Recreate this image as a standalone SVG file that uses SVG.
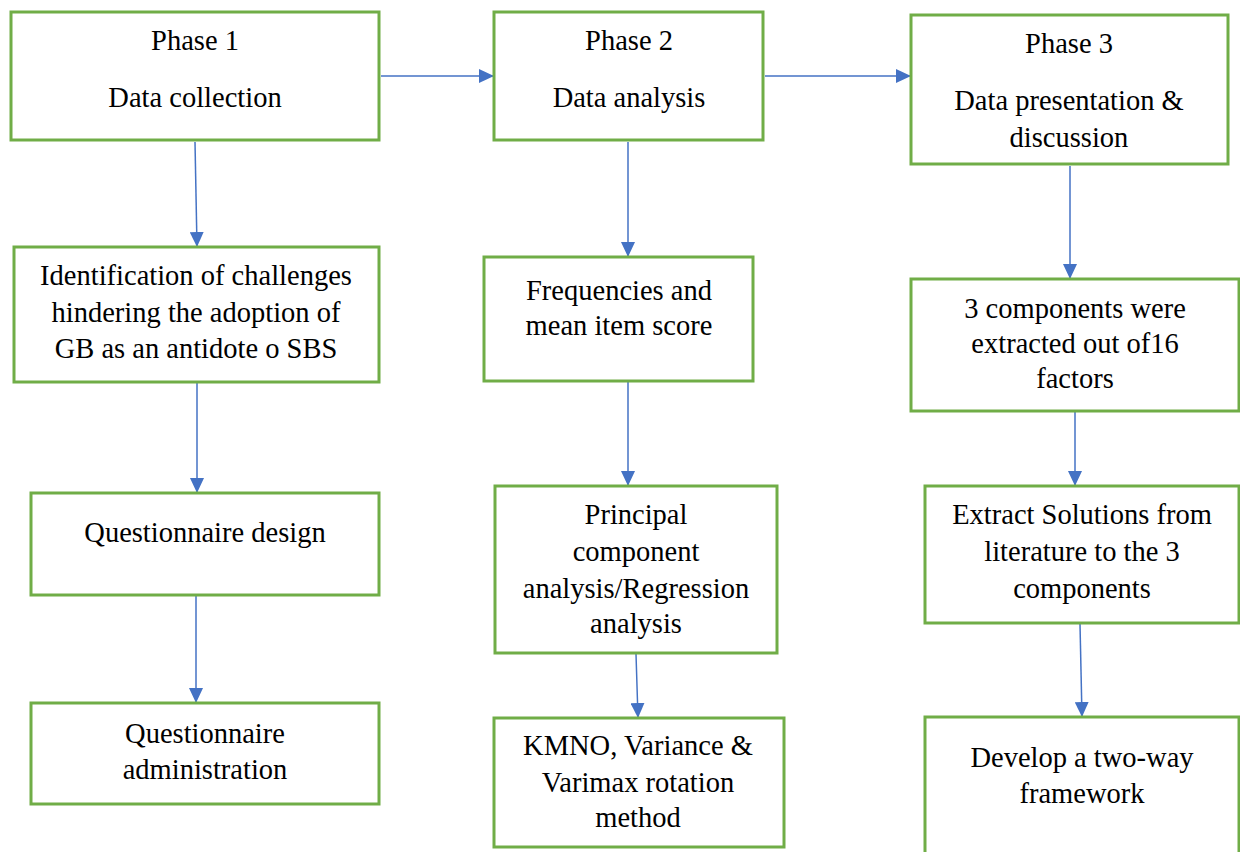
<svg xmlns="http://www.w3.org/2000/svg" width="1240" height="852" viewBox="0 0 1240 852">
<style>
.box{fill:#fff;stroke:#70AD47;stroke-width:3}
.t{font-family:"Liberation Serif","Times New Roman",serif;font-size:28.5px;fill:#000;text-anchor:middle}
.c{stroke:#4472C4;stroke-width:1.5;fill:none;marker-end:url(#ah)}
</style>
<defs>
<marker id="ah" markerUnits="userSpaceOnUse" markerWidth="16" markerHeight="14" refX="15" refY="7" orient="auto">
<path d="M0,0 L15,7 L0,14 Z" fill="#4472C4"/>
</marker>
</defs>
<rect width="1240" height="852" fill="#fff"/>
<g id="connectors">
<line class="c" x1="381" y1="76" x2="494" y2="76"/>
<line class="c" x1="765" y1="76" x2="911" y2="76"/>
<line class="c" x1="195" y1="142" x2="197" y2="247"/>
<line class="c" x1="197" y1="383" x2="197" y2="493"/>
<line class="c" x1="196" y1="596" x2="196" y2="703"/>
<line class="c" x1="628" y1="142" x2="628" y2="257"/>
<line class="c" x1="628" y1="382" x2="628" y2="486"/>
<line class="c" x1="636" y1="654" x2="638" y2="718"/>
<line class="c" x1="1070" y1="166" x2="1070" y2="279"/>
<line class="c" x1="1075" y1="412" x2="1075" y2="486"/>
<line class="c" x1="1080" y1="624" x2="1082" y2="717"/>
</g>
<g id="phase1">
<rect class="box" x="11" y="12" width="368" height="128"/>
<text class="t" x="195" y="50">Phase 1</text>
<text class="t" x="195" y="107">Data collection</text>
</g>
<g id="phase2">
<rect class="box" x="494" y="12" width="269" height="128"/>
<text class="t" x="629" y="50">Phase 2</text>
<text class="t" x="629" y="107">Data analysis</text>
</g>
<g id="phase3">
<rect class="box" x="911" y="15" width="317" height="149"/>
<text class="t" x="1069" y="53">Phase 3</text>
<text class="t" x="1069" y="110">Data presentation &amp;</text>
<text class="t" x="1069" y="147">discussion</text>
</g>
<g id="identification">
<rect class="box" x="14" y="247" width="365" height="135"/>
<text class="t" x="196" y="285">Identification of challenges</text>
<text class="t" x="196" y="322">hindering the adoption of</text>
<text class="t" x="196" y="358">GB as an antidote o SBS</text>
</g>
<g id="qdesign">
<rect class="box" x="31" y="493" width="348" height="102"/>
<text class="t" x="205" y="542">Questionnaire design</text>
</g>
<g id="qadmin">
<rect class="box" x="31" y="703" width="348" height="101"/>
<text class="t" x="205" y="743">Questionnaire</text>
<text class="t" x="205" y="779">administration</text>
</g>
<g id="frequencies">
<rect class="box" x="484" y="257" width="269" height="124"/>
<text class="t" x="619" y="300">Frequencies and</text>
<text class="t" x="619" y="335">mean item score</text>
</g>
<g id="principal">
<rect class="box" x="495" y="486" width="282" height="167"/>
<text class="t" x="636" y="524">Principal</text>
<text class="t" x="636" y="561">component</text>
<text class="t" x="636" y="598">analysis/Regression</text>
<text class="t" x="636" y="633">analysis</text>
</g>
<g id="kmno">
<rect class="box" x="494" y="718" width="290" height="129"/>
<text class="t" x="638" y="755">KMNO, Variance &amp;</text>
<text class="t" x="638" y="792">Varimax rotation</text>
<text class="t" x="638" y="827">method</text>
</g>
<g id="components">
<rect class="box" x="911" y="279" width="328" height="132"/>
<text class="t" x="1075" y="318">3 components were</text>
<text class="t" x="1075" y="353">extracted out of16</text>
<text class="t" x="1075" y="388">factors</text>
</g>
<g id="extract">
<rect class="box" x="925" y="486" width="314" height="137"/>
<text class="t" x="1082" y="524">Extract Solutions from</text>
<text class="t" x="1082" y="561">literature to the 3</text>
<text class="t" x="1082" y="598">components</text>
</g>
<g id="framework">
<rect class="box" x="925" y="717" width="314" height="150"/>
<text class="t" x="1082" y="767">Develop a two-way</text>
<text class="t" x="1082" y="803">framework</text>
</g>
</svg>
